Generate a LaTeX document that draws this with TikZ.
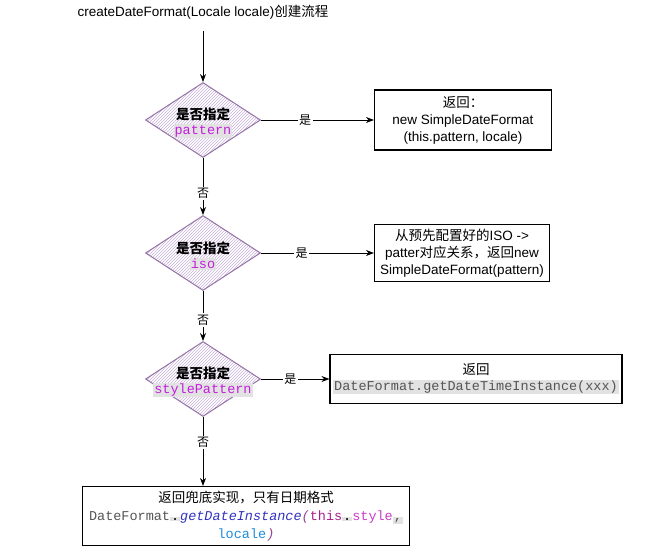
\documentclass[tikz,border=0pt]{standalone}
\usepackage{fontspec}
\setmainfont{Liberation Sans}
\setmonofont{Liberation Mono}
\newfontfamily\cjk{Noto Sans CJK SC}
\definecolor{DecideLine}{RGB}{150, 115, 166}
\definecolor{DecideHatch}{RGB}{200, 180, 218}
\definecolor{CodeMagenta}{RGB}{195, 30, 220}
\definecolor{CodeBg}{RGB}{226, 226, 226}
\definecolor{CodeGray}{RGB}{85, 85, 85}
\definecolor{CodeBlue}{RGB}{50, 50, 190}
\definecolor{CodePurple}{RGB}{150, 70, 150}
\definecolor{CodeThis}{RGB}{170, 30, 140}
\definecolor{CodeStyle}{RGB}{200, 60, 200}
\definecolor{CodeLocale}{RGB}{30, 140, 220}
\usetikzlibrary{arrows.meta, positioning, shapes.geometric, patterns}
\setlength{\fboxsep}{1pt}
\newcommand{\hlcode}[2][CodeMagenta]{\colorbox{CodeBg}{\ttfamily\textcolor{#1}{#2}}}

\begin{document}
\begin{tikzpicture}[x=1pt, y=-1pt,
    every node/.style={font=\fontsize{13.5}{17}\selectfont, align=center},
    decide/.style={diamond, draw=DecideLine, line width=1pt, minimum width=115pt,
        minimum height=75pt, inner sep=0pt, preaction={fill=white},
        pattern=north east lines, pattern color=DecideHatch},
    result/.style={draw, line width=1.1pt, inner sep=0pt},
    flow/.style={-{Stealth[length=8pt, width=6pt]}, line width=0.8pt},
    lbl/.style={fill=white, inner sep=1.5pt, font=\cjk\fontsize{12}{14}\selectfont}
]
\useasboundingbox (0,0) rectangle (651,554);
% Titel
\node (title) at (203,12) {createDateFormat(Locale locale){\cjk 创建流程}};
\coordinate (start) at ([yshift=-8pt]title.south);
% Entscheidungen
\foreach \n/\y in {d1/120, d2/253, d3/379} {
    \node[decide] (\n) at (203,\y) {};
}
\node (q1) at ([yshift=-3pt]d1.center) {{\cjk\bfseries 是否指定}\\[-2pt]\hlcode{pattern}};
\node (q2) at ([yshift=-3pt]d2.center) {{\cjk\bfseries 是否指定}\\[-2pt]\hlcode{iso}};
\node (q3) at ([yshift=-3pt]d3.center) {{\cjk\bfseries 是否指定}\\[-2pt]\hlcode{stylePattern}};
% Ergebnisse
\node[result, minimum width=177pt, minimum height=60pt] (r1) at (463,120)
    {{\cjk 返回：}\\new SimpleDateFormat\\(this.pattern, locale)};
\node[result, minimum width=175pt, minimum height=57pt] (r2) at (462,253)
    {{\cjk 从预先配置好的}ISO ->\\patter{\cjk 对应关系，返回}new\\SimpleDateFormat(pattern)};
\node[result, minimum width=292pt, minimum height=49pt] (r3) at (476,379)
    {{\cjk 返回}\\[-1pt]\hlcode[CodeGray]{DateFormat.getDateTimeInstance(xxx)}};
\node[result, minimum width=327pt, minimum height=59pt] (r4) at (246,516)
    {{\cjk 返回兜底实现，只有日期格式}\\[1pt]
    {\ttfamily\textcolor{CodeGray}{DateFormat}\colorbox{CodeBg}{.}\textcolor{CodeBlue}{\itshape getDateInstance}\textcolor{CodePurple}{\itshape (}\textcolor{CodeThis}{this}\colorbox{CodeBg}{.}\textcolor{CodeStyle}{style}\colorbox{CodeBg}{\textcolor{CodeGray}{,}}}\\[1pt]
    {\ttfamily\textcolor{CodeLocale}{locale}\textcolor{CodePurple}{\itshape )}}};
% Pfeile
\draw[flow] (start) -- (d1.north);
\draw[flow] (d1.east) -- node[lbl, pos=0.39] {是} (r1.west);
\draw[flow] (d2.east) -- node[lbl, pos=0.36] {是} (r2.west);
\draw[flow] (d3.east) -- node[lbl, pos=0.43] {是} (r3.west);
\draw[flow] (d1.south) -- node[lbl, pos=0.62] {否} (d2.north);
\draw[flow] (d2.south) -- node[lbl, pos=0.58] {否} (d3.north);
\draw[flow] (d3.south) -- node[lbl, pos=0.37] {否} (d3.south |- r4.north);
\end{tikzpicture}
\end{document}
